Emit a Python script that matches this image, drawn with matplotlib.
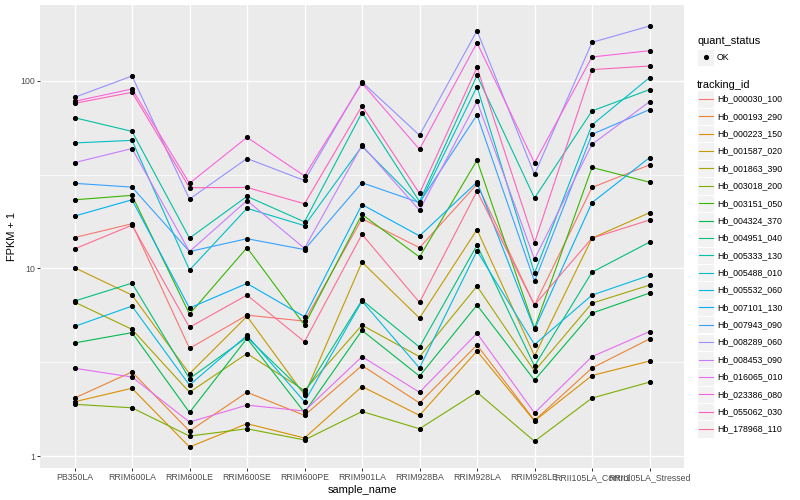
import numpy as np
import matplotlib
matplotlib.use('Agg')
import matplotlib.pyplot as plt
from matplotlib.patches import Rectangle
from matplotlib.lines import Line2D
from matplotlib.ticker import NullFormatter, FixedLocator

plt.rcParams['font.family'] = ['Liberation Sans', 'DejaVu Sans']

# samples on the x axis
samples = ['PB350LA', 'RRIM600LA', 'RRIM600LE', 'RRIM600SE', 'RRIM600PE',
           'RRIM901LA', 'RRIM928BA', 'RRIM928LA', 'RRIM928LE',
           'RRII105LA_Control', 'RRII105LA_Stressed']

# FPKM + 1 per gene, one value per sample
hb_000030_100 = [14.6, 17.3, 3.75, 5.64, 5.24, 18.4, 12.9, 28.1, 6.38, 27.0, 35.6]
hb_000193_290 = [2.04, 2.81, 1.36, 2.19, 1.65, 3.04, 1.92, 3.91, 1.55, 2.95, 4.21]
hb_000223_150 = [1.95, 2.30, 1.12, 1.49, 1.25, 2.35, 1.65, 3.63, 1.54, 2.69, 3.21]
hb_001587_020 = [10.1, 7.21, 2.75, 5.56, 2.12, 10.8, 5.44, 16.1, 3.42, 14.5, 19.8]
hb_001863_390 = [6.62, 4.74, 2.19, 3.52, 2.24, 4.99, 3.39, 8.05, 2.84, 6.53, 8.15]
hb_003018_200 = [1.89, 1.81, 1.28, 1.40, 1.22, 1.73, 1.40, 2.19, 1.20, 2.04, 2.48]
hb_003151_050 = [23.2, 24.5, 5.71, 12.9, 4.99, 19.4, 11.5, 37.7, 4.80, 34.5, 28.8]
hb_004324_370 = [4.01, 4.55, 1.71, 4.24, 1.71, 4.68, 2.67, 6.38, 2.54, 5.78, 7.39]
hb_004951_040 = [6.70, 8.35, 2.59, 4.30, 2.18, 6.78, 3.81, 13.3, 3.02, 9.55, 13.8]
hb_005333_130 = [63.5, 53.7, 14.5, 24.2, 17.7, 67.6, 22.7, 106.7, 23.7, 69.0, 89.6]
hb_005488_010 = [46.6, 48.1, 9.8, 20.9, 16.9, 44.7, 22.0, 92.9, 9.44, 58.1, 103.8]
hb_005532_060 = [4.91, 6.30, 2.39, 4.40, 1.95, 6.70, 2.95, 12.4, 3.93, 7.21, 9.18]
hb_007101_130 = [19.0, 23.2, 6.15, 8.32, 5.53, 21.9, 14.9, 28.8, 4.74, 22.4, 38.9]
hb_007943_090 = [28.4, 27.1, 12.3, 14.4, 12.6, 28.6, 22.4, 65.7, 8.53, 51.8, 70.1]
hb_008289_060 = [81.5, 105.9, 23.4, 38.5, 29.4, 98.4, 51.2, 184.5, 31.7, 160.0, 195.4]
hb_008453_090 = [36.6, 43.5, 12.3, 23.0, 12.8, 45.3, 20.4, 77.6, 11.2, 45.8, 77.3]
hb_016065_010 = [2.94, 2.64, 1.52, 1.87, 1.74, 3.39, 2.19, 4.51, 1.70, 3.39, 4.61]
hb_023386_080 = [77.6, 90.3, 28.4, 49.9, 31.1, 97.0, 43.1, 159.2, 36.5, 133.7, 144.4]
hb_055062_030 = [75.7, 86.7, 26.9, 27.0, 22.1, 73.3, 25.1, 117.8, 13.7, 114.5, 119.7]
hb_178968_110 = [12.7, 17.0, 4.86, 7.21, 4.07, 15.2, 6.59, 25.8, 6.38, 14.5, 18.1]

tracking_ids = ['Hb_000030_100', 'Hb_000193_290', 'Hb_000223_150', 'Hb_001587_020',
                'Hb_001863_390', 'Hb_003018_200', 'Hb_003151_050', 'Hb_004324_370',
                'Hb_004951_040', 'Hb_005333_130', 'Hb_005488_010', 'Hb_005532_060',
                'Hb_007101_130', 'Hb_007943_090', 'Hb_008289_060', 'Hb_008453_090',
                'Hb_016065_010', 'Hb_023386_080', 'Hb_055062_030', 'Hb_178968_110']
series = [hb_000030_100, hb_000193_290, hb_000223_150, hb_001587_020, hb_001863_390,
          hb_003018_200, hb_003151_050, hb_004324_370, hb_004951_040, hb_005333_130,
          hb_005488_010, hb_005532_060, hb_007101_130, hb_007943_090, hb_008289_060,
          hb_008453_090, hb_016065_010, hb_023386_080, hb_055062_030, hb_178968_110]

quant_status = 'OK'

# ggplot default hue palette for 20 levels
colors = ['#F8766D', '#EA8331', '#D89000', '#C09B00', '#A3A500', '#7CAE00', '#39B600',
          '#00BB4E', '#00BF7D', '#00C1A3', '#00BFC4', '#00BAE0', '#00B0F6', '#35A2FF',
          '#9590FF', '#C77CFF', '#E76BF3', '#FA62DB', '#FF62BC', '#FF6C91']

W, H = 800, 500
fig = plt.figure(figsize=(W / 100, H / 100), dpi=100)
ax = fig.add_axes([40 / W, 1 - 468 / H, 644 / W, 463 / H])
ax.set_facecolor('#EBEBEB')
for s in ax.spines.values():
    s.set_visible(False)

x = np.arange(len(samples))
for vals, col in zip(series, colors):
    ax.plot(x, vals, color=col, lw=0.8, zorder=3)
for vals in series:
    ax.plot(x, vals, 'o', color='black', ms=2.7, zorder=4)

# log scale with ggplot-like 5% expansion
ax.set_yscale('log')
allv = np.concatenate([np.array(v) for v in series])
lo, hi = np.log10(allv.min()), np.log10(allv.max())
pad = 0.05 * (hi - lo)
ax.set_ylim(10 ** (lo - pad), 10 ** (hi + pad))
ax.set_xlim(-0.6, len(samples) - 0.4)

ax.yaxis.set_major_locator(FixedLocator([1, 10, 100]))
ax.set_yticklabels(['1', '10', '100'])
ax.yaxis.set_minor_locator(FixedLocator([10 ** 0.5, 10 ** 1.5]))
ax.yaxis.set_minor_formatter(NullFormatter())
ax.set_xticks(x)
ax.set_xticklabels(samples)

ax.grid(which='major', color='white', lw=1.0, zorder=0)
ax.grid(which='minor', axis='y', color='white', lw=0.5, zorder=0)
ax.set_axisbelow(True)
ax.tick_params(which='major', length=2.0, width=0.7, color='#333333',
               labelsize=6.3, labelcolor='#4D4D4D', pad=1.6)
ax.tick_params(which='minor', length=0)

ax.set_xlabel('sample_name', fontsize=7.9, labelpad=2)
ax.set_ylabel('FPKM + 1', fontsize=7.9, labelpad=2.5)


def fx(px):
    return px / W


def fy(py):
    return 1 - py / H


# legend drawn by hand, ggplot style
key = 17.3
kx = 697
fig.text(fx(kx), fy(40.7), 'quant_status', fontsize=7.9, va='center', ha='left')
fig.add_artist(Rectangle((fx(kx), fy(57.3 + key / 2)), key / W, key / H,
                         transform=fig.transFigure, facecolor='#F2F2F2',
                         edgecolor='white', lw=0.7))
fig.add_artist(Line2D([fx(kx + key / 2)], [fy(57.3)], marker='o', color='black',
                      ms=2.7, transform=fig.transFigure))
fig.text(fx(717), fy(57.3), quant_status, fontsize=6.3, va='center', ha='left')

fig.text(fx(kx), fy(85), 'tracking_id', fontsize=7.9, va='center', ha='left')
for i, (tid, col) in enumerate(zip(tracking_ids, colors)):
    cy = 99 + i * 17.37
    fig.add_artist(Rectangle((fx(kx), fy(cy + key / 2)), key / W, key / H,
                             transform=fig.transFigure, facecolor='#F2F2F2',
                             edgecolor='white', lw=0.7))
    fig.add_artist(Line2D([fx(kx + 1.7), fx(kx + key - 1.7)], [fy(cy), fy(cy)],
                          color=col, lw=0.8, transform=fig.transFigure))
    fig.text(fx(717), fy(cy), tid, fontsize=6.3, va='center', ha='left')

fig.savefig('out.png', dpi=100)
